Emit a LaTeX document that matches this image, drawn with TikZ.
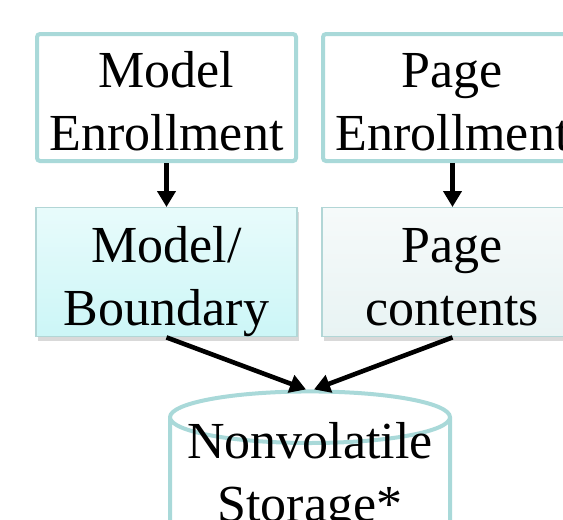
\documentclass[tikz,border=0pt]{standalone}
\usepackage{fontspec}
\setmainfont{Liberation Serif}
\usetikzlibrary{arrows.meta,positioning,shapes.geometric,shadows}
\definecolor{Rim}{HTML}{A9D9D9}
\definecolor{RimSoft}{HTML}{B2D6D6}
\definecolor{CyanTop}{HTML}{E8FBFB}
\definecolor{CyanLow}{HTML}{CCF6F7}
\definecolor{PaleTop}{HTML}{F6FAFA}
\definecolor{PaleLow}{HTML}{E8F3F3}
\tikzset{
  stage/.style={draw=Rim,line width=2pt,rounded corners=1.5pt,fill=white,minimum width=129.5pt,minimum height=63.5pt,align=center,inner sep=0pt,text height=52.5pt,text depth=0pt,font=\fontsize{26}{31.5}\selectfont},
  datum/.style={draw=RimSoft,line width=0.7pt,minimum width=130.5pt,minimum height=64.5pt,align=center,inner sep=0pt,text height=53pt,text depth=0pt,font=\fontsize{26}{31.5}\selectfont,drop shadow={shadow xshift=1pt,shadow yshift=-2pt,opacity=0.3}},
  store/.style={draw=Rim,line width=2pt,fill=white,cylinder,shape border rotate=90,aspect=0.21,minimum width=140pt,align=center,inner sep=0pt,text height=38pt,text depth=0pt,font=\fontsize{26}{31.5}\selectfont},
  line/.style={-{Triangle[length=8pt,width=9pt]},line width=2.3pt,color=black}
}

\begin{document}
\begin{tikzpicture}[x=0.5pt,y=0.5pt]
  \useasboundingbox (0,0) rectangle (563,-520);
  \node[stage] (menroll) at (166.5,-97.5) {Model\\Enrollment};
  \node[stage,right=11.5pt of menroll] (penroll) {Page\\Enrollment};
  \node[datum,top color=CyanTop,bottom color=CyanLow,below=22pt of menroll] (boundary) {Model/\\Boundary};
  \node[datum,top color=PaleTop,bottom color=PaleLow,below=22pt of penroll] (contents) {Page\\contents};
  \node[store] (nvstore) at (310,-483) {Nonvolatile\\Storage*};
  \draw[line] (menroll) -- (boundary);
  \draw[line] (penroll) -- (contents);
  \draw[line] (boundary.south) -- ([xshift=-2pt]nvstore.north);
  \draw[line] (contents.south) -- ([xshift=2pt]nvstore.north);
\end{tikzpicture}
\end{document}
